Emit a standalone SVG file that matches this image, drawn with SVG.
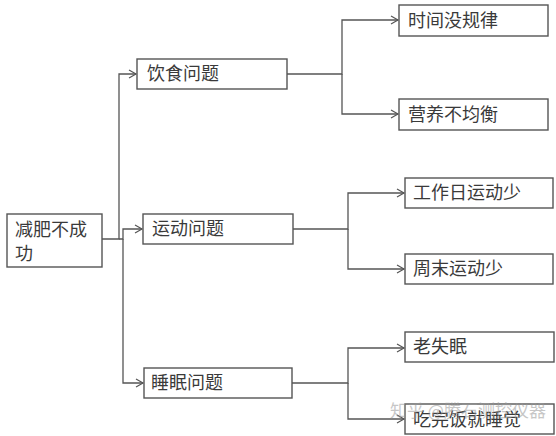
<svg xmlns="http://www.w3.org/2000/svg" width="556" height="436" viewBox="0 0 556 436">
<defs>
<style>
.box{fill:#fff;stroke:#555;stroke-width:1.4}
.t{font-family:"Noto Sans CJK SC","Noto Sans",sans-serif;font-size:18px;fill:#3a3a3a}
.c{fill:none;stroke:#555;stroke-width:1.3}
.wm{font-family:"Noto Sans CJK SC",sans-serif;font-size:17px;fill:#999;opacity:0.55}
</style>
<marker id="ah" markerWidth="10" markerHeight="10" refX="8" refY="5" orient="auto" markerUnits="userSpaceOnUse">
<path d="M1,1 L8,5 L1,9" fill="none" stroke="#555" stroke-width="1.2"/>
</marker>
</defs>
<rect width="556" height="436" fill="#fff"/>
<g id="connectors">
<path class="c" d="M102,239 H119 V74 H136" marker-end="url(#ah)"/>
<path class="c" d="M119,239 H123 V229 H142" marker-end="url(#ah)"/>
<path class="c" d="M123,239 V383 H143" marker-end="url(#ah)"/>
<path class="c" d="M287,74 H342 V20 H398" marker-end="url(#ah)"/>
<path class="c" d="M342,74 V114 H398" marker-end="url(#ah)"/>
<path class="c" d="M293,229 H348 V193 H404" marker-end="url(#ah)"/>
<path class="c" d="M348,229 V269 H404" marker-end="url(#ah)"/>
<path class="c" d="M292,383 H348 V348 H404" marker-end="url(#ah)"/>
<path class="c" d="M348,383 V419 H404" marker-end="url(#ah)"/>
</g>
<g id="root">
<rect class="box" x="7" y="214" width="95" height="53"/>
<text class="t" x="15" y="236">减肥不成</text>
<text class="t" x="15" y="260">功</text>
</g>
<g id="diet">
<rect class="box" x="137" y="59" width="150" height="30"/>
<text class="t" x="147" y="80">饮食问题</text>
</g>
<g id="exercise">
<rect class="box" x="143" y="214" width="150" height="30"/>
<text class="t" x="152" y="235">运动问题</text>
</g>
<g id="sleep">
<rect class="box" x="144" y="368" width="148" height="30"/>
<text class="t" x="151" y="389">睡眠问题</text>
</g>
<g id="irregular">
<rect class="box" x="399" y="5" width="149" height="31"/>
<text class="t" x="408" y="27">时间没规律</text>
</g>
<g id="nutrition">
<rect class="box" x="399" y="99" width="149" height="31"/>
<text class="t" x="408" y="121">营养不均衡</text>
</g>
<g id="workday">
<rect class="box" x="405" y="178" width="148" height="30"/>
<text class="t" x="413" y="199">工作日运动少</text>
</g>
<g id="weekend">
<rect class="box" x="405" y="254" width="148" height="30"/>
<text class="t" x="413" y="275">周末运动少</text>
</g>
<g id="insomnia">
<rect class="box" x="405" y="332" width="149" height="30"/>
<text class="t" x="413" y="353">老失眠</text>
</g>
<g id="sleepaftermeal">
<rect class="box" x="405" y="404" width="149" height="30"/>
<text class="t" x="413" y="426">吃完饭就睡觉</text>
</g>
<text class="wm" x="390" y="417">知乎 @腾石测控仪器</text>
</svg>
